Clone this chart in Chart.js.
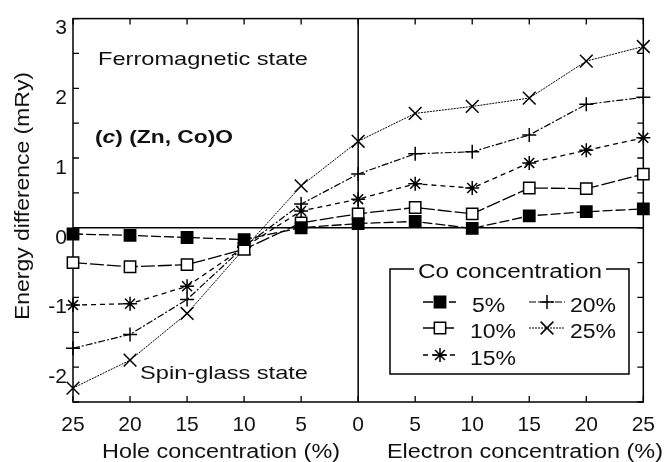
<!DOCTYPE html>
<html>
<head>
<meta charset="utf-8">
<script src="https://cdn.jsdelivr.net/npm/chart.js@4/dist/chart.umd.min.js"></script>
<style>
  html, body { margin: 0; padding: 0; background: #fff; }
  canvas { display: block; }
</style>
</head>
<body>
<canvas id="c" width="666" height="462"></canvas>
<script>
// Carrier concentration (%): negative = hole doping, positive = electron doping
const concentration = [-25, -20, -15, -10, -5, 0, 5, 10, 15, 20, 25];

// Energy difference E(spin-glass) - E(ferro) in mRy for each Co concentration
const co5  = [-0.09, -0.11, -0.14, -0.17, 0.00, 0.06, 0.09, -0.01, 0.17, 0.23, 0.27];
const co10 = [-0.50, -0.56, -0.53, -0.31, 0.07, 0.20, 0.29, 0.20, 0.57, 0.56, 0.77];
const co15 = [-1.11, -1.09, -0.84, -0.28, 0.24, 0.41, 0.63, 0.57, 0.93, 1.11, 1.29];
const co20 = [-1.73, -1.53, -1.03, -0.27, 0.34, 0.77, 1.06, 1.09, 1.33, 1.77, 1.87];
const co25 = [-2.30, -1.90, -1.23, -0.30, 0.60, 1.24, 1.64, 1.74, 1.86, 2.39, 2.60];

const seriesLabels = ['5%', '10%', '15%', '20%', '25%'];
const yTickValues = [-2, -1, 0, 1, 2, 3];
const yMinorStep = 0.5;

const FONT = '"Liberation Sans", Arial, Helvetica, sans-serif';
const INK = '#111';

function pts(values) {
  return values.map((v, i) => ({ x: concentration[i], y: v }));
}

const styles = [
  { pointStyle: 'rect',     pointRadius: 8, pointBackgroundColor: '#000', borderDash: [10, 3],       borderWidth: 1.3 },
  { pointStyle: 'rect',     pointRadius: 8, pointBackgroundColor: '#fff', borderDash: [14, 3],       borderWidth: 1.3 },
  { pointStyle: 'star',     pointRadius: 7, pointBackgroundColor: '#fff', borderDash: [5, 4],        borderWidth: 1.3 },
  { pointStyle: 'cross',    pointRadius: 7, pointBackgroundColor: '#fff', borderDash: [7, 2, 2, 2],  borderWidth: 1.2 },
  { pointStyle: 'crossRot', pointRadius: 9, pointBackgroundColor: '#fff', borderDash: [2, 1],        borderWidth: 1.0 }
];
const seriesValues = [co5, co10, co15, co20, co25];

const datasets = seriesValues.map((vals, i) => Object.assign({
  label: seriesLabels[i],
  data: pts(vals),
  borderColor: '#000',
  pointBorderColor: '#000',
  pointBorderWidth: 1.5,
  pointHoverRadius: 8,
  tension: 0,
  fill: false,
  clip: false
}, styles[i]));

// Text drawn with a horizontal stretch to a given width
function stretchText(ctx, str, x, y, font, width, align) {
  ctx.save();
  ctx.font = font;
  ctx.fillStyle = INK;
  ctx.textBaseline = 'alphabetic';
  const w = ctx.measureText(str).width;
  const sx = width ? width / w : 1;
  ctx.translate(x, y);
  ctx.scale(sx, 1);
  ctx.textAlign = align || 'left';
  ctx.fillText(str, 0, 0);
  ctx.restore();
}

function drawMarker(ctx, ds, x, y) {
  const r = ds.pointRadius;
  ctx.save();
  ctx.setLineDash([]);
  ctx.lineWidth = ds.pointBorderWidth;
  ctx.strokeStyle = '#000';
  ctx.fillStyle = ds.pointBackgroundColor;
  ctx.beginPath();
  const cross = (rad) => {
    const dx = Math.cos(rad) * r, dy = Math.sin(rad) * r;
    ctx.moveTo(x - dx, y - dy); ctx.lineTo(x + dx, y + dy);
    ctx.moveTo(x - dy, y + dx); ctx.lineTo(x + dy, y - dx);
  };
  if (ds.pointStyle === 'rect') {
    const s = Math.SQRT1_2 * r;
    ctx.rect(x - s, y - s, 2 * s, 2 * s);
    ctx.fill();
    ctx.stroke();
  } else if (ds.pointStyle === 'cross') {
    cross(0); ctx.stroke();
  } else if (ds.pointStyle === 'crossRot') {
    cross(Math.PI / 4); ctx.stroke();
  } else if (ds.pointStyle === 'star') {
    cross(0); cross(Math.PI / 4); ctx.stroke();
  }
  ctx.restore();
}

const framePlugin = {
  id: 'frame',
  beforeDatasetsDraw(chart) {
    const { ctx, chartArea: a, scales: { x, y } } = chart;
    ctx.save();
    ctx.strokeStyle = '#000';
    ctx.lineWidth = 1.5;
    ctx.setLineDash([]);
    // box
    ctx.strokeRect(a.left, a.top, a.right - a.left, a.bottom - a.top);
    // zero reference lines
    const y0 = y.getPixelForValue(0);
    const x0 = x.getPixelForValue(0);
    ctx.beginPath();
    ctx.moveTo(a.left, y0); ctx.lineTo(a.right, y0);
    ctx.moveTo(x0, a.top); ctx.lineTo(x0, a.bottom);
    ctx.stroke();
    // inward ticks
    ctx.lineWidth = 1.3;
    ctx.beginPath();
    const tl = 6;
    x.ticks.forEach(t => {
      const px = x.getPixelForValue(t.value);
      ctx.moveTo(px, a.bottom); ctx.lineTo(px, a.bottom - tl);
      ctx.moveTo(px, a.top); ctx.lineTo(px, a.top + tl);
    });
    for (let v = y.min; v <= y.max + 1e-9; v += yMinorStep) {
      const py = y.getPixelForValue(v);
      ctx.moveTo(a.left, py); ctx.lineTo(a.left + tl, py);
      ctx.moveTo(a.right, py); ctx.lineTo(a.right - tl, py);
    }
    ctx.stroke();
    ctx.restore();
  },
  afterDraw(chart) {
    const { ctx } = chart;
    // annotations
    stretchText(ctx, 'Ferromagnetic state', 98, 65, '19px ' + FONT, 210);
    stretchText(ctx, 'Spin-glass state', 140, 379, '19px ' + FONT, 168);

    // "(c) (Zn, Co)O" with italic c
    ctx.save();
    const parts = [
      ['(', 'bold 19px ' + FONT],
      ['c', 'italic bold 19px ' + FONT],
      [') (Zn, Co)O', 'bold 19px ' + FONT]
    ];
    let total = 0;
    parts.forEach(p => { ctx.font = p[1]; total += ctx.measureText(p[0]).width; });
    const sx = 138 / total;
    ctx.translate(95, 143);
    ctx.scale(sx, 1);
    ctx.fillStyle = INK;
    ctx.textBaseline = 'alphabetic';
    ctx.textAlign = 'left';
    let cx = 0;
    parts.forEach(p => { ctx.font = p[1]; ctx.fillText(p[0], cx, 0); cx += ctx.measureText(p[0]).width; });
    ctx.restore();

    // axis titles
    stretchText(ctx, 'Hole concentration (%)', 102, 458, '20px ' + FONT, 238);
    stretchText(ctx, 'Electron concentration (%)', 387, 458, '20px ' + FONT, 276);
    ctx.save();
    ctx.translate(29, 196);
    ctx.rotate(-Math.PI / 2);
    stretchText(ctx, 'Energy difference (mRy)', 0, 0, '21px ' + FONT, 248, 'center');
    ctx.restore();

    // legend
    const L = { left: 390, top: 269, right: 629, bottom: 374 };
    ctx.save();
    ctx.fillStyle = '#fff';
    ctx.fillRect(L.left, L.top, L.right - L.left, L.bottom - L.top);
    ctx.strokeStyle = '#000';
    ctx.lineWidth = 1.5;
    ctx.setLineDash([]);
    ctx.beginPath();
    ctx.moveTo(414, L.top); ctx.lineTo(L.left, L.top); ctx.lineTo(L.left, L.bottom);
    ctx.lineTo(L.right, L.bottom); ctx.lineTo(L.right, L.top); ctx.lineTo(606, L.top);
    ctx.stroke();
    ctx.restore();
    stretchText(ctx, 'Co concentration', 510, 278, '20px ' + FONT, 184, 'center');

    const slots = [
      { sx0: 423, sx1: 456, mx: 440, tx: 472, y: 302 },
      { sx0: 423, sx1: 456, mx: 440, tx: 470, y: 328 },
      { sx0: 423, sx1: 456, mx: 440, tx: 470, y: 355 },
      { sx0: 529, sx1: 565, mx: 547, tx: 570, y: 302 },
      { sx0: 529, sx1: 565, mx: 547, tx: 570, y: 328 }
    ];
    chart.data.datasets.forEach((ds, i) => {
      const s = slots[i];
      ctx.save();
      ctx.strokeStyle = '#000';
      ctx.lineWidth = ds.borderWidth;
      ctx.setLineDash(ds.borderDash);
      ctx.beginPath();
      ctx.moveTo(s.sx0, s.y); ctx.lineTo(s.sx1, s.y);
      ctx.stroke();
      ctx.restore();
      drawMarker(ctx, ds, s.mx, s.y);
      ctx.save();
      ctx.font = '20px ' + FONT;
      const w = ctx.measureText(ds.label).width;
      ctx.restore();
      stretchText(ctx, ds.label, s.tx, s.y + 10, '20px ' + FONT, w * 1.15);
    });
  }
};

new Chart(document.getElementById('c'), {
  type: 'line',
  data: { datasets },
  options: {
    responsive: false,
    animation: false,
    devicePixelRatio: 1,
    layout: { padding: { top: 17, right: 18, left: 0, bottom: 0 } },
    plugins: { legend: { display: false }, tooltip: { enabled: false } },
    scales: {
      x: {
        type: 'linear',
        min: -25, max: 25,
        grid: { display: false, drawTicks: false },
        border: { display: false },
        afterFit(s) { s.height = 60; },
        ticks: {
          stepSize: 5,
          padding: 11,
          color: INK,
          font: { family: FONT, size: 21 },
          maxRotation: 0,
          callback: v => Math.abs(v)
        }
      },
      y: {
        min: -2.5, max: 3,
        grid: { display: false, drawTicks: false },
        border: { display: false },
        afterFit(s) { s.width = 73; },
        afterBuildTicks(s) { s.ticks = yTickValues.map(v => ({ value: v })); },
        ticks: {
          padding: 6,
          labelOffset: 10,
          color: INK,
          font: { family: FONT, size: 21 }
        }
      }
    }
  },
  plugins: [framePlugin]
});
</script>
</body>
</html>
